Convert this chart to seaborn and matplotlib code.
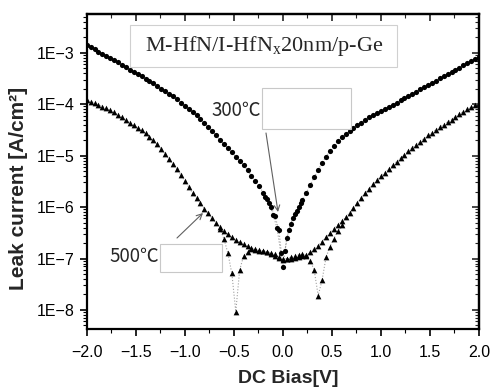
import numpy as np
import matplotlib
matplotlib.use("Agg")
import matplotlib.pyplot as plt
from matplotlib.patches import Rectangle
from matplotlib.ticker import MultipleLocator, LogLocator, NullFormatter
import seaborn as sns

# bias sweep, -2 V .. 2 V in 40 mV steps
bias = np.round(np.linspace(-2.0, 2.0, 101), 2)

# log10 of leak current [A/cm2]
log_j_300 = [
    -2.85, -2.89, -2.93, -2.98, -3.02, -3.06, -3.10, -3.15, -3.19, -3.24,
    -3.28, -3.33, -3.37, -3.42, -3.46, -3.51, -3.55, -3.60, -3.65, -3.70,
    -3.75, -3.80, -3.85, -3.91, -3.97, -4.03, -4.09, -4.15, -4.22, -4.29,
    -4.36, -4.44, -4.52, -4.61, -4.70, -4.78, -4.86, -4.94, -5.02, -5.10,
    -5.19, -5.29, -5.39, -5.49, -5.60, -5.72, -5.85, -6.00, -6.18, -6.45,
    -7.16, -6.60, -6.33, -6.14, -6.00, -5.86, -5.72, -5.57, -5.42, -5.28,
    -5.14, -5.02, -4.91, -4.81, -4.72, -4.64, -4.58, -4.52, -4.46, -4.41,
    -4.36, -4.31, -4.26, -4.22, -4.18, -4.14, -4.09, -4.05, -4.01, -3.97,
    -3.92, -3.88, -3.84, -3.80, -3.76, -3.71, -3.67, -3.63, -3.59, -3.55,
    -3.50, -3.46, -3.42, -3.38, -3.33, -3.29, -3.25, -3.21, -3.17, -3.12,
    -3.08,
]
log_j_500 = [
    -3.92, -3.95, -3.98, -4.01, -4.05, -4.08, -4.12, -4.16, -4.21, -4.26,
    -4.31, -4.36, -4.41, -4.46, -4.51, -4.57, -4.63, -4.70, -4.78, -4.87,
    -4.97, -5.07, -5.17, -5.27, -5.38, -5.49, -5.61, -5.73, -5.83, -5.93,
    -6.03, -6.12, -6.22, -6.31, -6.39, -6.47, -6.53, -6.59, -6.64, -6.68,
    -6.72, -6.76, -6.80, -6.83, -6.85, -6.86, -6.87, -6.89, -6.92, -6.97,
    -7.00, -7.01, -7.00, -6.99, -6.98, -6.96, -6.93, -6.88, -6.82, -6.75,
    -6.67, -6.59, -6.51, -6.43, -6.35, -6.28, -6.20, -6.11, -6.02, -5.92,
    -5.82, -5.73, -5.64, -5.56, -5.48, -5.40, -5.33, -5.26, -5.19, -5.12,
    -5.05, -4.98, -4.91, -4.85, -4.79, -4.73, -4.67, -4.61, -4.56, -4.50,
    -4.45, -4.40, -4.35, -4.30, -4.25, -4.20, -4.15, -4.10, -4.06, -4.02,
    -3.98,
]

# second sweep, only where it departs from the first one
bias_300_rev = [-0.18, -0.14, -0.10, -0.06, -0.02, 0.02, 0.06, 0.10, 0.14, 0.18]
log_j_300_rev = [-5.80, -5.93, -6.15, -6.40, -6.90, -6.85, -6.45, -6.22, -6.07, -5.93]

bias_500_rev = bias[34:66]
log_j_500_rev = [
    -6.42, -6.62, -6.90, -7.29, -8.03, -7.22, -6.95, -6.88, -6.82, -6.82,
    -6.84, -6.86, -6.88, -6.91, -6.95, -6.99, -7.02, -7.00, -6.98, -6.96,
    -6.93, -6.92, -6.95, -7.04, -7.23, -7.72, -7.42, -6.98, -6.77, -6.62,
    -6.47, -6.34,
]

x_ticks = [-2.0, -1.5, -1.0, -0.5, 0.0, 0.5, 1.0, 1.5, 2.0]
x_tick_labels = ["\u22122.0", "\u22121.5", "\u22121.0", "\u22120.5", "0.0", "0.5", "1.0", "1.5", "2.0"]
y_ticks = [1e-8, 1e-7, 1e-6, 1e-5, 1e-4, 1e-3]
y_tick_labels = ["1E\u22128", "1E\u22127", "1E\u22126", "1E\u22125", "1E\u22124", "1E\u22123"]

title_text = r"M-HfN/I-HfN$_\mathrm{x}$20nm/p-Ge"
label_300 = "300\u2103"
label_500 = "500\u2103"

W, H = 491, 389


def fxy(x, y):
    # image pixel (from top-left) -> figure fraction
    return (x / W, 1 - y / H)


sns.set_style("ticks")
plt.rcParams["font.family"] = ["Liberation Sans", "DejaVu Sans"]
plt.rcParams["mathtext.fontset"] = "custom"
plt.rcParams["mathtext.rm"] = "Liberation Serif"
plt.rcParams["mathtext.it"] = "Liberation Serif:italic"

fig = plt.figure(figsize=(W / 100, H / 100), dpi=100)
ax = fig.add_axes([86.7 / W, 1 - 329.3 / H, (479 - 86.7) / W, (329.3 - 14) / H])
ax.set_yscale("log")

series = [
    (bias, log_j_300, "o", 14),
    (bias_300_rev, log_j_300_rev, "o", 14),
    (bias, log_j_500, "^", 17),
    (bias_500_rev, log_j_500_rev, "^", 17),
]
for xs, logs, mk, sz in series:
    ys = 10.0 ** np.asarray(logs)
    sns.lineplot(x=xs, y=ys, ax=ax, color="#a0a0a0", linestyle=":", lw=0.8,
                 estimator=None, sort=False)
    sns.scatterplot(x=xs, y=ys, ax=ax, marker=mk, s=sz, color="black",
                    linewidth=0, zorder=3)

ax.set_xlim(-2.0, 2.0)
ax.set_ylim(10 ** -8.375, 10 ** -2.25)

# ticks: left/bottom outward with labels, top/right inward
ax.set_xticks(x_ticks, labels=x_tick_labels)
ax.set_yticks(y_ticks, labels=y_tick_labels)
ax.xaxis.set_minor_locator(MultipleLocator(0.25))
ax.yaxis.set_minor_locator(LogLocator(base=10, subs=np.arange(2, 10), numticks=20))
ax.yaxis.set_minor_formatter(NullFormatter())
ax.tick_params(which="both", direction="out", labelsize=11.5, colors="black")
ax.tick_params(axis="x", pad=6)
ax.tick_params(axis="y", pad=4)
ax.tick_params(which="major", length=5, width=1.2)
ax.tick_params(which="minor", length=3, width=0.8)

top = ax.secondary_xaxis("top")
top.set_xticks(x_ticks)
top.xaxis.set_minor_locator(MultipleLocator(0.25))
top.tick_params(which="both", direction="in", labeltop=False)
top.tick_params(which="major", length=5, width=1.2)
top.tick_params(which="minor", length=3, width=0.8)

right = ax.secondary_yaxis("right")
right.yaxis.set_major_locator(LogLocator(base=10, numticks=20))
right.yaxis.set_minor_locator(LogLocator(base=10, subs=np.arange(2, 10), numticks=20))
right.yaxis.set_major_formatter(NullFormatter())
right.yaxis.set_minor_formatter(NullFormatter())
right.tick_params(which="both", direction="in", labelright=False)
right.tick_params(which="major", length=5, width=1.2)
right.tick_params(which="minor", length=3, width=0.8)

for a in (ax, top, right):
    for sp in a.spines.values():
        sp.set_linewidth(1.6)
        sp.set_color("black")

ax.set_xlabel("DC Bias[V]", fontsize=14, fontweight="bold", va="center")
ax.set_ylabel("Leak current [A/cm\u00b2]", fontsize=15, fontweight="bold", va="center")
ax.xaxis.set_label_coords(0.513, -0.1545)
ax.yaxis.set_label_coords(-0.1726, 0.447)

# title box
x0, y0 = fxy(130, 67)
x1, y1 = fxy(397, 25)
fig.add_artist(Rectangle((x0, y0), x1 - x0, y1 - y0, transform=fig.transFigure,
                         fill=False, edgecolor="#d0d0d0", lw=0.8))
fig.text(*fxy(145, 46), title_text, family="Liberation Serif", fontsize=16,
         ha="left", va="center")

# 300 C label, empty box and arrow
fig.text(*fxy(261, 111), label_300, family=["Noto Sans CJK JP", "DejaVu Sans"],
         fontsize=13.5, ha="right", va="center")
x0, y0 = fxy(262, 129)
x1, y1 = fxy(351, 88)
fig.add_artist(Rectangle((x0, y0), x1 - x0, y1 - y0, transform=fig.transFigure,
                         fill=False, edgecolor="#c8c8c8", lw=0.8))
ax.annotate("", xy=fxy(278, 212), xytext=fxy(266, 133), xycoords="figure fraction",
            textcoords="figure fraction",
            arrowprops=dict(arrowstyle="->,head_length=0.4,head_width=0.2",
                            color="#606060", lw=0.8, shrinkA=0, shrinkB=0))

# 500 C label, empty box and arrow
fig.text(*fxy(159, 257), label_500, family=["Noto Sans CJK JP", "DejaVu Sans"],
         fontsize=13.5, ha="right", va="center")
x0, y0 = fxy(160, 272)
x1, y1 = fxy(222, 244)
fig.add_artist(Rectangle((x0, y0), x1 - x0, y1 - y0, transform=fig.transFigure,
                         fill=False, edgecolor="#c8c8c8", lw=0.8))
ax.annotate("", xy=fxy(203, 213), xytext=fxy(177, 238), xycoords="figure fraction",
            textcoords="figure fraction",
            arrowprops=dict(arrowstyle="->,head_length=0.4,head_width=0.2",
                            color="#606060", lw=0.8, shrinkA=0, shrinkB=0))

fig.savefig("out.png", dpi=100)
